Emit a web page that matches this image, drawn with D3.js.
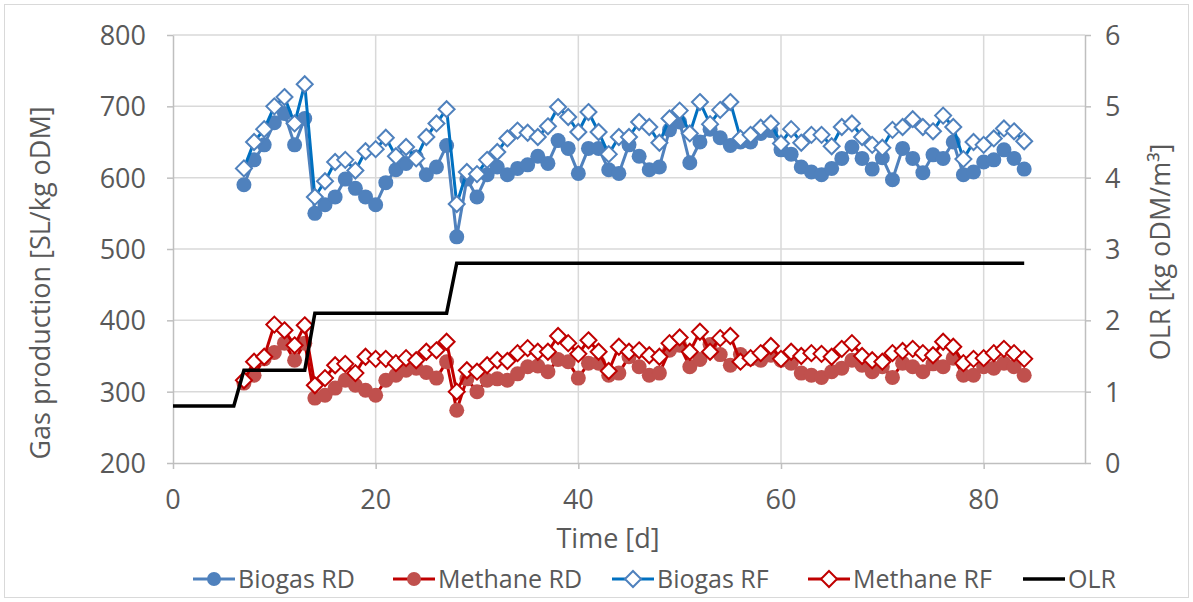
<!DOCTYPE html>
<html><head><meta charset="utf-8">
<script src="https://cdn.jsdelivr.net/npm/d3@7"></script>
<style>
html,body{margin:0;padding:0;background:#fff;}
text{font-family:"Open Sans",sans-serif;fill:#595959;}
</style></head>
<body>
<svg id="chart" width="1193" height="602"></svg>
<script>
const days = [7,8,9,10,11,12,13,14,15,16,17,18,19,20,21,22,23,24,25,26,27,28,29,30,31,32,33,34,35,36,37,38,39,40,41,42,43,44,45,46,47,48,49,50,51,52,53,54,55,56,57,58,59,60,61,62,63,64,65,66,67,68,69,70,71,72,73,74,75,76,77,78,79,80,81,82,83,84];
const biogasRD = [590,625,646,677,690,646,683,550,562,573,598,585,573,562,593,611,620,629,604,615,645,517,598,573,604,615,604,613,618,630,620,652,641,606,641,641,611,606,646,630,611,615,667,678,621,650,668,656,645,650,650,662,666,639,633,615,608,604,613,627,643,627,612,628,597,641,627,607,632,627,650,604,608,622,625,639,627,612];
const methaneRD = [312,323,346,355,368,344,368,291,295,305,316,309,302,295,316,323,330,333,327,319,342,274,318,300,316,318,316,325,335,336,328,345,342,319,340,340,323,326,349,335,323,326,358,365,335,345,366,352,337,352,346,344,351,344,340,326,323,320,328,333,344,337,328,335,320,340,335,328,339,335,347,323,323,335,333,340,335,323];
const biogasRF = [613,650,668,700,713,676,731,573,595,622,625,610,637,640,656,630,643,627,657,676,696,563,608,605,625,636,655,666,663,657,672,699,685,664,692,664,633,657,657,678,671,649,683,694,662,706,675,695,706,655,660,670,676,648,668,649,660,660,644,671,676,657,646,642,667,671,682,671,665,687,671,626,650,646,655,669,665,651];
const methaneRF = [316,342,349,394,386,365,393,309,319,337,339,326,349,346,346,340,347,344,356,358,370,300,330,328,337,344,343,354,361,356,356,378,368,353,372,356,329,363,356,358,351,349,368,376,356,384,356,375,378,342,347,354,364,346,356,350,354,353,349,360,368,350,344,342,354,357,360,354,351,370,363,340,346,347,354,360,354,346];
const olrDays = [0,6,7,13,14,27,28,84];
const olrValues = [0.8,0.8,1.3,1.3,2.1,2.1,2.8,2.8];
const xTicks = [0,20,40,60,80];
const yLeftTicks = [200,300,400,500,600,700,800];
const yRightTicks = [0,1,2,3,4,5,6];
const legendLabels = ["Biogas RD","Methane RD","Biogas RF","Methane RF","OLR"];

const svg = d3.select("#chart");
const L = 173, R = 1085, T = 35, B = 463;
const x = d3.scaleLinear().domain([0,90]).range([L,R]);
const y = d3.scaleLinear().domain([200,800]).range([B,T]);
const y2 = d3.scaleLinear().domain([0,6]).range([B,T]);

svg.append("rect").attr("x",4.5).attr("y",4.5).attr("width",1184).attr("height",593)
  .attr("fill","#fff").attr("stroke","#D9D9D9").attr("stroke-width",1);

svg.append("g").selectAll("line").data(yLeftTicks.filter(d=>d>200)).join("line")
  .attr("x1",L).attr("x2",R).attr("y1",d=>y(d)).attr("y2",d=>y(d))
  .attr("stroke","#D9D9D9").attr("stroke-width",1.5);
svg.append("g").selectAll("line").data(xTicks.filter(d=>d>0)).join("line")
  .attr("x1",d=>x(d)).attr("x2",d=>x(d)).attr("y1",T).attr("y2",B)
  .attr("stroke","#D9D9D9").attr("stroke-width",1.5);

const axisColor = "#BFBFBF";
function styleAxis(g){
  g.select(".domain").attr("stroke",axisColor).attr("stroke-width",1.5);
  g.selectAll(".tick line").attr("stroke",axisColor).attr("stroke-width",1.5);
  g.selectAll(".tick text").remove();
}
svg.append("g").attr("transform",`translate(${L},0)`)
  .call(d3.axisLeft(y).tickValues(yLeftTicks).tickSize(6).tickSizeOuter(0)).call(styleAxis);
svg.append("g").attr("transform",`translate(${R},0)`)
  .call(d3.axisRight(y2).tickValues(yRightTicks).tickSize(6).tickSizeOuter(0)).call(styleAxis);
svg.append("g").attr("transform",`translate(0,${B})`)
  .call(d3.axisBottom(x).tickValues(xTicks).tickSize(6).tickSizeOuter(0)).call(styleAxis);

const fs = 27;
svg.append("g").selectAll("text").data(yLeftTicks).join("text")
  .attr("x",146).attr("y",d=>y(d)+10).attr("text-anchor","end").attr("font-size",fs).text(d=>d);
svg.append("g").selectAll("text").data(yRightTicks).join("text")
  .attr("x",1105).attr("y",d=>y2(d)+10).attr("text-anchor","start").attr("font-size",fs).text(d=>d);
svg.append("g").selectAll("text").data(xTicks).join("text")
  .attr("x",d=>x(d)).attr("y",509).attr("text-anchor","middle").attr("font-size",fs).text(d=>d);

svg.append("text").attr("x",608).attr("y",548).attr("text-anchor","middle").attr("font-size",fs).text("Time [d]");
svg.append("text").attr("transform","translate(50,283) rotate(-90)").attr("text-anchor","middle").attr("font-size",fs).text("Gas production [SL/kg oDM]");
svg.append("text").attr("transform","translate(1170,252) rotate(-90)").attr("text-anchor","middle").attr("font-size",fs).text("OLR [kg oDM/m³]");

const series = [
  {name:"Biogas RD", vals:biogasRD, line:"#4F81BD", marker:"circle", fill:"#4F81BD", stroke:"#4F81BD"},
  {name:"Methane RD", vals:methaneRD, line:"#C00000", marker:"circle", fill:"#C0504D", stroke:"#C0504D"},
  {name:"Biogas RF", vals:biogasRF, line:"#0070C0", marker:"diamond", fill:"#fff", stroke:"#4F81BD"},
  {name:"Methane RF", vals:methaneRF, line:"#C00000", marker:"diamond", fill:"#fff", stroke:"#C00000"}
];
const lineGen = d3.line().x(d=>x(d[0])).y(d=>y(d[1]));
const diamond = s => `M0,${-s}L${s},0L0,${s}L${-s},0Z`;
series.forEach(s=>{
  const pts = days.map((d,i)=>[d,s.vals[i]]);
  const g = svg.append("g");
  g.append("path").attr("d",lineGen(pts)).attr("fill","none").attr("stroke",s.line).attr("stroke-width",3).attr("stroke-linejoin","round");
  if(s.marker==="circle"){
    g.selectAll("circle").data(pts).join("circle").attr("cx",d=>x(d[0])).attr("cy",d=>y(d[1])).attr("r",7.5).attr("fill",s.fill);
  } else {
    g.selectAll("path.m").data(pts).join("path").attr("class","m")
      .attr("transform",d=>`translate(${x(d[0])},${y(d[1])})`).attr("d",diamond(8))
      .attr("fill",s.fill).attr("stroke",s.stroke).attr("stroke-width",2);
  }
});
const olrLine = d3.line().x(d=>x(d[0])).y(d=>y2(d[1]));
svg.append("path").attr("d",olrLine(olrDays.map((d,i)=>[d,olrValues[i]])))
  .attr("fill","none").attr("stroke","#000").attr("stroke-width",3.5);

const legX = [193,393,612,808,1023];
const legY = 579;
const legendStyle = [...series, {name:"OLR", line:"#000", marker:null}];
legendLabels.forEach((lab,i)=>{
  const st = legendStyle[i];
  const g = svg.append("g").attr("transform",`translate(${legX[i]},${legY})`);
  g.append("line").attr("x1",0).attr("x2",42).attr("y1",0).attr("y2",0).attr("stroke",st.line).attr("stroke-width",st.marker?3:3.5);
  if(st.marker==="circle") g.append("circle").attr("cx",21).attr("cy",0).attr("r",7).attr("fill",st.fill);
  else if(st.marker==="diamond") g.append("path").attr("transform","translate(21,0)").attr("d",diamond(8)).attr("fill","#fff").attr("stroke",st.stroke).attr("stroke-width",2);
  g.append("text").attr("x",45).attr("y",9).attr("font-size",25).text(lab);
});
</script>
</body></html>
